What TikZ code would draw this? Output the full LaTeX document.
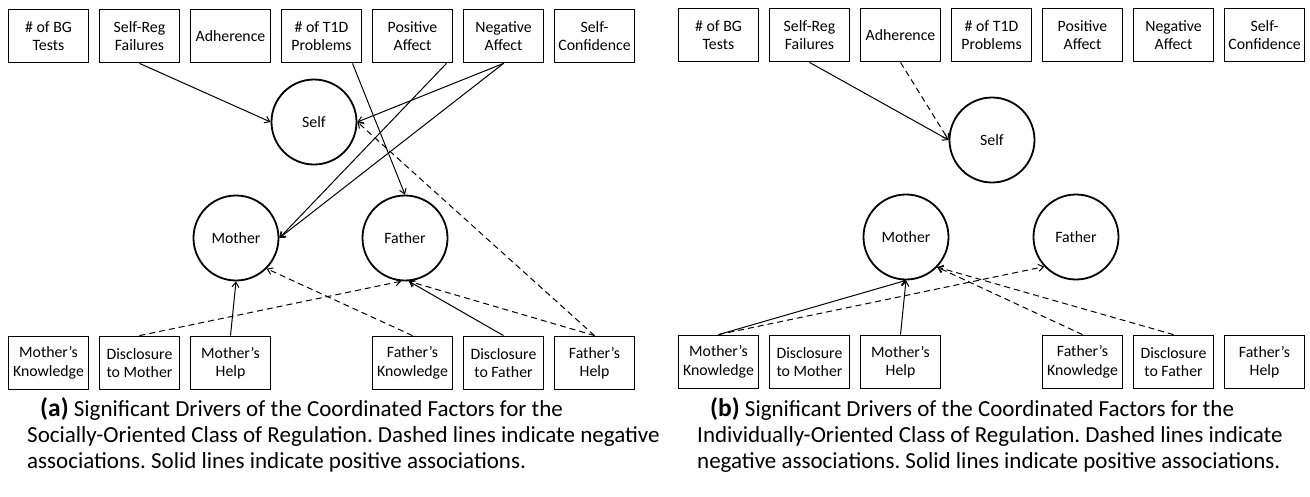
\documentclass[tikz,border=0pt]{standalone}
\usepackage{fontspec}
\setmainfont{Carlito}
\usetikzlibrary{arrows.meta,positioning}

\begin{document}
\begin{tikzpicture}[
    x=1pt, y=-1pt,
    node distance=9.2pt,
    box/.style={rectangle, draw=black, line width=1.8pt, minimum width=80pt, minimum height=53pt, inner sep=1pt, align=center, font=\fontsize{15.8}{18.5}\selectfont},
    factor/.style={circle, draw=black, line width=1.8pt, minimum size=85pt, inner sep=0pt, font=\fontsize{15.8}{18.5}\selectfont},
    arrow/.style={-{Straight Barb[length=5pt,width=7pt]}, line width=1pt},
    neg/.style={arrow, dash pattern=on 6pt off 4pt},
    caption/.style={anchor=base west, align=left, inner sep=0pt, font=\frenchspacing\fontsize{23}{25.8}\selectfont}
]
    \useasboundingbox (0,0) rectangle (1310,496);

    \node[box] (abg) at (48.5,36) {\# of BG\\Tests};
    \node[box, right=of abg] (asrf) {Self-Reg\\Failures};
    \node[box, right=of asrf] (aadh) {Adherence};
    \node[box, right=of aadh] (at1d) {\# of T1D\\Problems};
    \node[box, right=of at1d] (apos) {Positive\\Affect};
    \node[box, right=of apos] (aneg) {Negative\\Affect};
    \node[box, right=of aneg] (aconf) {Self-\\Confidence};

    \node[factor] (aself) at (314,122) {Self};
    \node[factor] (amother) at (236,238) {Mother};
    \node[factor] (afather) at (405,238) {Father};

    \node[box, below=272.2pt of abg] (amknow) {Mother's\\Knowledge};
    \node[box, below=272.2pt of asrf] (adism) {Disclosure\\to Mother};
    \node[box, below=272.2pt of aadh] (amhelp) {Mother's\\Help};
    \node[box, below=272.2pt of apos] (afknow) {Father's\\Knowledge};
    \node[box, below=272.2pt of aneg] (adisf) {Disclosure\\to Father};
    \node[box, below=272.2pt of aconf] (afhelp) {Father's\\Help};

    \draw[arrow] (asrf.south) -- (aself.west);
    \draw[arrow] ([xshift=31pt]at1d.south) -- (afather.north);
    \draw[arrow] ([xshift=34pt]apos.south) -- (amother.east);
    \draw[arrow] (aneg.south) -- (aself.east);
    \draw[arrow] (aneg.south) -- (amother.east);
    \draw[neg] (afhelp.north) -- (aself.east);
    \draw[neg] (afhelp.north) -- (afather.-85);
    \draw[arrow] (adisf.north) -- (afather.-85);
    \draw[neg] (adism.north) -- (afather.-95);
    \draw[neg] (afknow.north) -- (amother.-45);
    \draw[arrow] (amhelp.north) -- (amother.south);

    \node[caption] (acap) at (27,468) {\hspace*{13pt}{\bfseries\fontsize{25.5}{25.8}\selectfont (a)} Significant Drivers of the Coordinated Factors for the\\Socially-Oriented Class of Regulation. Dashed lines indicate negative\\associations. Solid lines indicate positive associations.};

    \node[box] (bbg) at (718.5,35) {\# of BG\\Tests};
    \node[box, right=of bbg] (bsrf) {Self-Reg\\Failures};
    \node[box, right=of bsrf] (badh) {Adherence};
    \node[box, right=of badh] (bt1d) {\# of T1D\\Problems};
    \node[box, right=of bt1d] (bpos) {Positive\\Affect};
    \node[box, right=of bpos] (bneg) {Negative\\Affect};
    \node[box, right=of bneg] (bconf) {Self-\\Confidence};

    \node[factor] (bself) at (992,140) {Self};
    \node[factor] (bmother) at (906,237) {Mother};
    \node[factor] (bfather) at (1076,237) {Father};

    \node[box, below=272.2pt of bbg] (bmknow) {Mother's\\Knowledge};
    \node[box, below=272.2pt of bsrf] (bdism) {Disclosure\\to Mother};
    \node[box, below=272.2pt of badh] (bmhelp) {Mother's\\Help};
    \node[box, below=272.2pt of bpos] (bfknow) {Father's\\Knowledge};
    \node[box, below=272.2pt of bneg] (bdisf) {Disclosure\\to Father};
    \node[box, below=272.2pt of bconf] (bfhelp) {Father's\\Help};

    \draw[arrow] (bsrf.south) -- (bself.west);
    \draw[neg] (badh.south) -- (bself.west);
    \draw[arrow] (bmknow.north) -- (bmother.south);
    \draw[neg] (bmknow.north) -- (bfather.-137);
    \draw[arrow] (bmhelp.north) -- (bmother.south);
    \draw[neg] (bfknow.north) -- (bmother.-44);
    \draw[neg] (bdisf.north) -- (bmother.-44);

    \node[caption] (bcap) at (697,468) {\hspace*{13pt}{\bfseries\fontsize{25.5}{25.8}\selectfont (b)} Significant Drivers of the Coordinated Factors for the\\Individually-Oriented Class of Regulation. Dashed lines indicate\\negative associations. Solid lines indicate positive associations.};
\end{tikzpicture}
\end{document}
